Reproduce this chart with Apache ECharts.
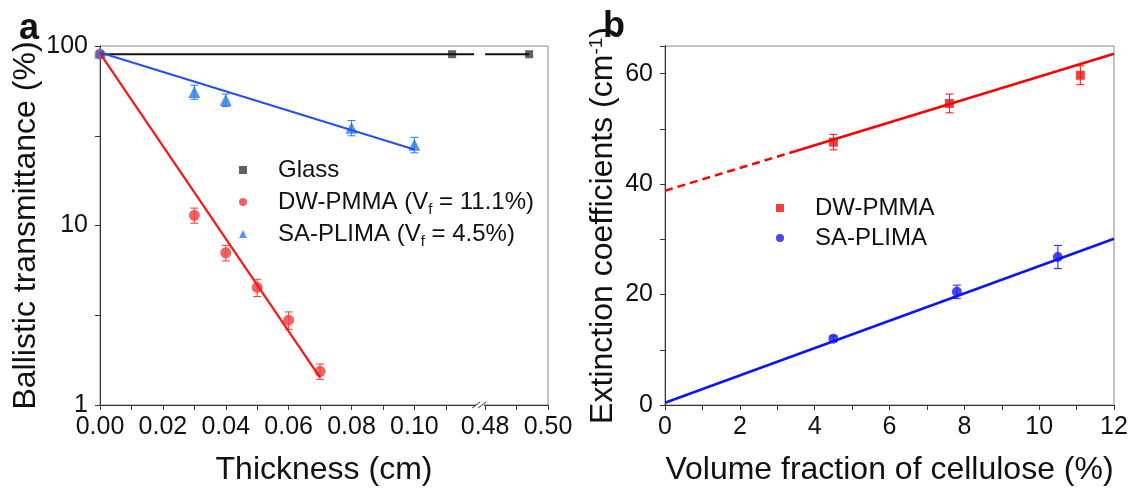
<!DOCTYPE html>
<html><head><meta charset="utf-8">
<script src="https://cdn.jsdelivr.net/npm/echarts@6/dist/echarts.min.js"></script>
<style>html,body{margin:0;padding:0;background:#fff}#c{width:1132px;height:491px}</style>
</head><body><div id="c"></div>
<script>
// ---------- Panel a data ----------
const thicknessDW = [0, 0.03, 0.04, 0.05, 0.06, 0.07];
const transDW     = [90, 11.4, 7.05, 4.52, 2.97, 1.54];
const errDW       = [0, 1.1, 0.7, 0.5, 0.33, 0.15];
const thicknessSA = [0, 0.03, 0.04, 0.08, 0.10];
const transSA     = [92, 55.5, 50, 35, 28.2];
const errSA       = [0, 5, 4, 3.4, 2.8];
const thicknessGlass = [0, 0.112, 0.494];
const transGlass     = [90, 90, 90];
const glassLine1 = [[0, 90], [0.119, 90]];
const glassLine2 = [[0.48, 90], [0.494, 90]];
const fitDWa = [[0, 91], [0.07, 1.42]];
const fitSAa = [[0, 92], [0.10, 26.5]];
const xTicksA  = [0, 0.01, 0.02, 0.03, 0.04, 0.05, 0.06, 0.07, 0.08, 0.09, 0.10, 0.11, 0.48, 0.49, 0.50];
const xLabelsA = [0, 0.02, 0.04, 0.06, 0.08, 0.10, 0.48, 0.50];
const yLabelsA = [1, 10, 100];
const breakAt = 0.1212;
// ---------- Panel b data ----------
const vfDW  = [4.5, 7.6, 11.1];
const extDW = [47.6, 54.6, 59.7];
const eDWb  = [1.4, 1.7, 1.7];
const vfSA  = [4.5, 7.8, 10.5];
const extSA = [12.0, 20.5, 26.8];
const eSAb  = [0.5, 1.2, 2.1];
const fitDWbDash  = [[0, 38.8], [3.5, 46.0]];
const fitDWbSolid = [[3.5, 46.0], [12, 63.6]];
const fitSAb = [[0, 0.4], [12, 30.1]];

// broken x axis transform: values >= 0.48 shifted next to 0.12
const OFF = 0.1225;
const tx = v => v >= 0.48 ? v - 0.48 + OFF : v;
const untx = v => v > 0.12 ? v - OFF + 0.48 : v;
const ly = v => Math.log10(v);
const XMAX_A = tx(0.50) + 1e-9;

const F = "'Liberation Sans', Arial, sans-serif";
const RED_A = '#f03c3c', BLUE_A = '#2a7ae6', GLASS = '#3a3a3a';

function ptsA(xs, ys) { return xs.map((x, i) => [tx(x), ly(ys[i])]); }
function lineA(arr) { return arr.map(p => [tx(p[0]), ly(p[1])]); }
function errA(xs, ys, es) { return xs.map((x, i) => [tx(x), ly(ys[i] - es[i]), ly(ys[i] + es[i])]).filter((d, i) => es[i] > 0); }
function errB(xs, ys, es) { return xs.map((x, i) => [x, ys[i] - es[i], ys[i] + es[i]]); }

function errRender(color) {
  return function (params, api) {
    const x = api.value(0), lo = api.value(1), hi = api.value(2);
    const p1 = api.coord([x, lo]), p2 = api.coord([x, hi]);
    const w = 4, st = { stroke: color, lineWidth: 1 };
    return { type: 'group', children: [
      { type: 'line', shape: { x1: p1[0], y1: p1[1], x2: p2[0], y2: p2[1] }, style: st },
      { type: 'line', shape: { x1: p1[0] - w, y1: p1[1], x2: p1[0] + w, y2: p1[1] }, style: st },
      { type: 'line', shape: { x1: p2[0] - w, y1: p2[1], x2: p2[0] + w, y2: p2[1] }, style: st }
    ]};
  };
}

const axisCommon = {
  axisLine: { show: true, lineStyle: { color: '#333', width: 1 } },
  axisTick: { show: true, inside: false, length: 5, lineStyle: { color: '#333' } },
  splitLine: { show: false },
  axisLabel: { color: '#111', fontSize: 25, fontFamily: F },
  nameTextStyle: { color: '#111', fontSize: 32, fontFamily: F },
  nameLocation: 'middle'
};

const chart = echarts.init(document.getElementById('c'), null, { renderer: 'canvas' });
const option = {
  animation: false,
  backgroundColor: '#fff',
  title: [
    { text: 'a', left: 14, top: 6, textStyle: { fontSize: 36, fontWeight: 'bold', fontFamily: F, color: '#111' } },
    { text: 'b', left: 598, top: 4, textStyle: { fontSize: 36, fontWeight: 'bold', fontFamily: F, color: '#111' } }
  ],
  grid: [
    { left: 100, top: 46, width: 448, height: 362.5, show: true, borderColor: '#888', borderWidth: 1 },
    { left: 665, top: 46, width: 449, height: 362, show: true, borderColor: '#888', borderWidth: 1 }
  ],
  legend: [
    { orient: 'vertical', left: 239, top: 155, padding: 0, itemGap: 2, itemWidth: 8, itemHeight: 8,
      data: [
        { name: 'Glass', icon: 'rect', itemStyle: { color: GLASS } },
        { name: 'DW-PMMA (Vf = 11.1%)', icon: 'circle', itemStyle: { color: RED_A } },
        { name: 'SA-PLIMA (Vf = 4.5%)', icon: 'triangle', itemStyle: { color: BLUE_A } }
      ],
      formatter: n => n.replace('Vf', 'V{sub|f}'),
      textStyle: { fontSize: 24, fontFamily: F, color: '#111', lineHeight: 30, padding: [0, 0, 0, 26],
        rich: { sub: { fontSize: 15, fontFamily: F, color: '#111', lineHeight: 15, verticalAlign: 'bottom' } } } },
    { orient: 'vertical', left: 776, top: 193, padding: 0, itemGap: 0, itemWidth: 8, itemHeight: 8,
      data: [
        { name: 'DW-PMMA', icon: 'rect', itemStyle: { color: '#ee1111' } },
        { name: 'SA-PLIMA', icon: 'circle', itemStyle: { color: '#1a1aee' } }
      ],
      textStyle: { fontSize: 24, fontFamily: F, color: '#111', lineHeight: 30, padding: [0, 0, 0, 26] } }
  ],
  xAxis: [
    Object.assign({}, axisCommon, {
      gridIndex: 0, type: 'value', min: 0, max: XMAX_A,
      name: 'Thickness (cm)', nameGap: 49,
      axisTick: Object.assign({}, axisCommon.axisTick, { customValues: xTicksA.map(tx) }),
      axisLabel: Object.assign({}, axisCommon.axisLabel, { margin: 10, customValues: xLabelsA.map(tx),
        formatter: v => untx(v).toFixed(2) })
    }),
    Object.assign({}, axisCommon, {
      gridIndex: 1, type: 'value', min: 0, max: 12, interval: 1,
      name: 'Volume fraction of cellulose (%)', nameGap: 49,
      axisLabel: Object.assign({}, axisCommon.axisLabel, { margin: 10,
        formatter: v => (Math.round(v) % 2 === 0 ? String(v) : '') })
    })
  ],
  yAxis: [
    Object.assign({}, axisCommon, {
      gridIndex: 0, type: 'value', min: 0, max: 2, interval: 0.5,
      name: 'Ballistic transmittance (%)', nameGap: 58,
      axisLabel: Object.assign({}, axisCommon.axisLabel, { margin: 12, customValues: yLabelsA.map(ly),
        formatter: v => String(Math.round(Math.pow(10, v))) })
    }),
    Object.assign({}, axisCommon, {
      gridIndex: 1, type: 'value', min: 0, max: 65, interval: 10,
      name: 'Extinction coefficients (cm{sup|-1})', nameGap: 46,
      nameTextStyle: Object.assign({}, axisCommon.nameTextStyle, {
        rich: { sup: { fontSize: 19, fontFamily: F, color: '#111', verticalAlign: 'top', lineHeight: 14 } } }),
      axisLabel: Object.assign({}, axisCommon.axisLabel, { margin: 12,
        formatter: v => (v % 20 === 0 ? String(v) : '') })
    })
  ],
  series: [
    // ---- panel a ----
    { type: 'line', xAxisIndex: 0, yAxisIndex: 0, data: lineA(glassLine1), symbol: 'none', lineStyle: { color: '#111', width: 2 }, silent: true },
    { type: 'line', xAxisIndex: 0, yAxisIndex: 0, data: lineA(glassLine2), symbol: 'none', lineStyle: { color: '#111', width: 2 }, silent: true },
    { type: 'line', xAxisIndex: 0, yAxisIndex: 0, data: lineA(fitDWa), symbol: 'none', lineStyle: { color: '#ff1414', width: 2.2 }, silent: true },
    { type: 'line', xAxisIndex: 0, yAxisIndex: 0, data: lineA(fitSAa), symbol: 'none', lineStyle: { color: '#2450f0', width: 2.2 }, silent: true },
    { type: 'custom', xAxisIndex: 0, yAxisIndex: 0, data: errA(thicknessDW, transDW, errDW), renderItem: errRender(RED_A), silent: true },
    { type: 'custom', xAxisIndex: 0, yAxisIndex: 0, data: errA(thicknessSA, transSA, errSA), renderItem: errRender(BLUE_A), silent: true },
    { name: 'Glass', type: 'scatter', xAxisIndex: 0, yAxisIndex: 0, data: ptsA(thicknessGlass, transGlass), symbol: 'rect', symbolSize: 8, itemStyle: { color: GLASS } },
    { name: 'DW-PMMA (Vf = 11.1%)', type: 'scatter', xAxisIndex: 0, yAxisIndex: 0, data: ptsA(thicknessDW, transDW), symbol: 'circle', symbolSize: 11, itemStyle: { color: RED_A } },
    { name: 'SA-PLIMA (Vf = 4.5%)', type: 'scatter', xAxisIndex: 0, yAxisIndex: 0, data: ptsA(thicknessSA, transSA), symbol: 'triangle', symbolSize: 12, itemStyle: { color: BLUE_A } },
    { type: 'custom', xAxisIndex: 0, yAxisIndex: 0, data: [[breakAt, 0]], silent: true, z: 10,
      renderItem: function (params, api) {
        const p = api.coord([api.value(0), api.value(1)]);
        const st = { stroke: '#333', lineWidth: 1 };
        return { type: 'group', children: [
          { type: 'rect', shape: { x: p[0] - 5, y: p[1] - 3, width: 8, height: 6 }, style: { fill: '#fff' } },
          { type: 'line', shape: { x1: p[0] - 9, y1: p[1] + 3, x2: p[0] - 1, y2: p[1] - 3 }, style: st },
          { type: 'line', shape: { x1: p[0] - 3, y1: p[1] + 3, x2: p[0] + 5, y2: p[1] - 3 }, style: st }
        ]};
      } },
    // ---- panel b ----
    { type: 'line', xAxisIndex: 1, yAxisIndex: 1, data: fitDWbDash, symbol: 'none', lineStyle: { color: '#ff0000', width: 2.5, type: [8, 5] }, silent: true },
    { type: 'line', xAxisIndex: 1, yAxisIndex: 1, data: fitDWbSolid, symbol: 'none', lineStyle: { color: '#ff0000', width: 2.5 }, silent: true },
    { type: 'line', xAxisIndex: 1, yAxisIndex: 1, data: fitSAb, symbol: 'none', lineStyle: { color: '#0a14ff', width: 2.5 }, silent: true },
    { type: 'custom', xAxisIndex: 1, yAxisIndex: 1, data: errB(vfDW, extDW, eDWb), renderItem: errRender('#ee1111'), silent: true },
    { type: 'custom', xAxisIndex: 1, yAxisIndex: 1, data: errB(vfSA, extSA, eSAb), renderItem: errRender('#1a1aee'), silent: true },
    { name: 'DW-PMMA', type: 'scatter', xAxisIndex: 1, yAxisIndex: 1, data: vfDW.map((x, i) => [x, extDW[i]]), symbol: 'rect', symbolSize: 9, itemStyle: { color: '#ee1111' } },
    { name: 'SA-PLIMA', type: 'scatter', xAxisIndex: 1, yAxisIndex: 1, data: vfSA.map((x, i) => [x, extSA[i]]), symbol: 'circle', symbolSize: 10, itemStyle: { color: '#1a1aee' } }
  ]
};
chart.setOption(option);
</script>
</body></html>
